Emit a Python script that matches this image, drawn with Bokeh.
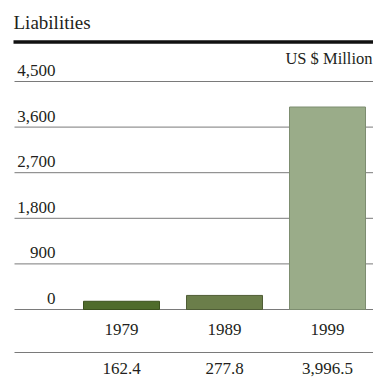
from bokeh.plotting import figure
from bokeh.models import Range1d, ColumnDataSource
from bokeh.core.properties import value
from bokeh.embed import file_html
from bokeh.resources import INLINE

# ---- data ----
title = "Liabilities"
unit_label = "US $ Million"
years = ["1979", "1989", "1999"]
liabilities = [162.4, 277.8, 3996.5]
y_ticks = [0, 900, 1800, 2700, 3600, 4500]
y_tick_labels = ["0", "900", "1,800", "2,700", "3,600", "4,500"]
bar_colors = ["#4f6c2c", "#6b7e4a", "#9aac89"]
bar_lines = ["#3c521f", "#4f5d36", "#7d8d70"]

# ---- layout (screen pixel helpers) ----
W, H = 373, 383
BASE = 309          # screen y of value 0
TOP = 81            # screen y of value 4500
PX = (y_ticks[-1] - y_ticks[0]) / (BASE - TOP)   # data units per pixel
C0, STEP = 121, 103  # screen x of first bar centre, spacing between bars


def sy(s):
    return (BASE - s) * PX


def sx(s):
    return (s - C0) / STEP


FONT = value("Liberation Serif")
INK = "#231f20"

p = figure(width=W, height=H, output_backend="svg", toolbar_location=None,
           x_axis_location=None, y_axis_location=None, min_border=0,
           x_range=Range1d(sx(0), sx(W)), y_range=Range1d(sy(H), sy(0)))
p.grid.visible = False
p.outline_line_color = None
p.background_fill_color = "white"
p.border_fill_color = "white"

idx = list(range(len(years)))

# gridlines
p.segment(x0=[sx(14)] * len(y_ticks), x1=[sx(W)] * len(y_ticks),
          y0=y_ticks, y1=y_ticks, line_color="#7a7a7a", line_width=1)

# thick header rule
p.segment(x0=[sx(13)], x1=[sx(W)], y0=[sy(41.5)], y1=[sy(41.5)],
          line_color="#111111", line_width=3.5)

# table rule
p.segment(x0=[sx(14)], x1=[sx(W)], y0=[sy(352)], y1=[sy(352)],
          line_color="#7a7a7a", line_width=1)

# bars
src = ColumnDataSource(dict(x=idx, top=liabilities, fill=bar_colors, line=bar_lines))
p.vbar(x="x", top="top", bottom=0, width=76 / STEP, fill_color="fill",
       line_color="line", line_width=1, source=src)

# y tick labels
p.text(x=[sx(55)] * len(y_ticks), y=y_ticks, text=y_tick_labels,
       text_align="right", text_baseline="middle", y_offset=-11,
       text_font=FONT, text_font_size="17px", text_color=INK)

# title
p.text(x=[sx(13)], y=[sy(22)], text=[title], text_align="left",
       text_baseline="middle", text_font=FONT, text_font_size="19px",
       text_color=INK)

# unit label
p.text(x=[sx(372)], y=[sy(58)], text=[unit_label], text_align="right",
       text_baseline="middle", text_font=FONT, text_font_size="16.5px",
       text_color=INK)

# year labels
p.text(x=idx, y=[sy(328.5)] * len(idx), text=years, text_align="center",
       text_baseline="middle", text_font=FONT, text_font_size="17px",
       text_color=INK)

# value labels
p.text(x=idx, y=[sy(368)] * len(idx), text=[f"{v:,.1f}" for v in liabilities],
       text_align="center", text_baseline="middle", text_font=FONT,
       text_font_size="17px", text_color=INK)

open("out.html", "w").write(file_html(p, INLINE))
